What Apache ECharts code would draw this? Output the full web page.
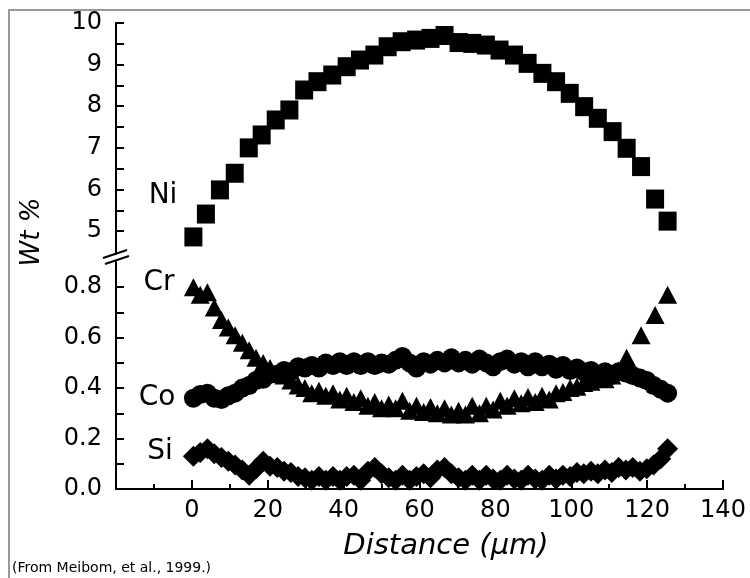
<!DOCTYPE html>
<html>
<head>
<meta charset="utf-8">
<title>Wt % vs Distance</title>
<script src="https://cdn.jsdelivr.net/npm/echarts@6/dist/echarts.min.js"></script>
<style>
  html, body { margin: 0; padding: 0; background: #fff; }
  #chart { width: 750px; height: 578px; }
</style>
</head>
<body>
<div id="chart"></div>
<script>
  // Ni traverse (µm, wt %)
  var niDistance = [0.4, 3.7, 7.4, 11.3, 15.0, 18.4, 22.1, 25.7, 29.6, 33.1, 37.0, 40.8, 44.3, 48.1, 51.6, 55.3, 59.1, 62.9,
    66.6, 70.3, 73.9, 77.5, 81.1, 84.9, 88.5, 92.4, 96.0, 99.6, 103.4, 107.0, 110.9, 114.6, 118.4, 122.1, 125.4]
  var ni = [4.86, 5.41, 5.99, 6.39, 7.0, 7.31, 7.67, 7.91, 8.39, 8.59, 8.75, 8.95, 9.11, 9.23, 9.43, 9.55, 9.59, 9.63,
    9.70, 9.53, 9.51, 9.47, 9.35, 9.23, 9.03, 8.79, 8.59, 8.31, 7.99, 7.71, 7.39, 6.99, 6.55, 5.77, 5.24]

  // minor elements, finer step
  var minorDistance = [0.4, 2.2, 4.1, 5.9, 7.8, 9.6, 11.4, 13.3, 15.1, 16.9, 18.8, 20.6, 22.5, 24.3, 26.1, 28.0, 29.8, 31.6,
    33.5, 35.3, 37.2, 39.0, 40.8, 42.7, 44.5, 46.4, 48.2, 50.0, 51.9, 53.7, 55.5, 57.4, 59.2, 61.1, 62.9, 64.7,
    66.6, 68.4, 70.3, 72.1, 73.9, 75.8, 77.6, 79.4, 81.3, 83.1, 85.0, 86.8, 88.6, 90.5, 92.3, 94.2, 96.0, 97.8,
    99.7, 101.5, 103.3, 105.2, 107.0, 108.9, 110.7, 112.5, 114.4, 116.2, 118.1, 119.9, 121.7, 123.6, 125.4]

  var crDistance = [0.4, 2.2, 4.1, 5.9, 7.8, 9.6, 11.4, 13.3, 15.1, 16.9, 18.8, 20.6, 22.5, 24.3, 26.1, 28.0, 29.8, 31.6,
    33.5, 35.3, 37.2, 39.0, 40.8, 42.7, 44.5, 46.4, 48.2, 50.0, 51.9, 53.7, 55.5, 57.4, 59.2, 61.1, 62.9, 64.7,
    66.6, 68.4, 70.3, 72.1, 73.9, 75.8, 77.6, 79.4, 81.3, 83.1, 85.0, 86.8, 88.6, 90.5, 92.3, 94.2, 96.0, 97.8,
    99.7, 101.5, 103.3, 105.2, 107.0, 108.9, 110.7, 112.5, 114.6, 118.4, 122.1, 125.4]
  var cr = [0.80, 0.77, 0.78, 0.72, 0.67, 0.64, 0.61, 0.58, 0.55, 0.52, 0.50, 0.48, 0.46, 0.45, 0.43, 0.41, 0.40, 0.38,
    0.39, 0.37, 0.38, 0.355, 0.37, 0.345, 0.36, 0.33, 0.345, 0.32, 0.335, 0.32, 0.35, 0.31, 0.33, 0.305, 0.325, 0.30,
    0.32, 0.295, 0.31, 0.295, 0.33, 0.30, 0.33, 0.315, 0.35, 0.33, 0.36, 0.34, 0.365, 0.345, 0.37, 0.355, 0.38, 0.385,
    0.40, 0.405, 0.42, 0.425, 0.44, 0.435, 0.45, 0.47, 0.52, 0.61, 0.69, 0.77]

  var co = [0.36, 0.375, 0.38, 0.36, 0.355, 0.37, 0.38, 0.40, 0.41, 0.43, 0.435, 0.455, 0.455, 0.47, 0.465, 0.485, 0.48, 0.49,
    0.48, 0.50, 0.49, 0.505, 0.49, 0.505, 0.49, 0.505, 0.49, 0.50, 0.495, 0.51, 0.525, 0.50, 0.48, 0.505, 0.495, 0.51,
    0.50, 0.52, 0.50, 0.51, 0.495, 0.515, 0.50, 0.485, 0.505, 0.515, 0.495, 0.505, 0.485, 0.505, 0.485, 0.495, 0.475, 0.49,
    0.47, 0.48, 0.465, 0.47, 0.455, 0.465, 0.45, 0.465, 0.46, 0.45, 0.44, 0.43, 0.41, 0.395, 0.38]

  var si = [0.13, 0.145, 0.16, 0.14, 0.125, 0.11, 0.095, 0.075, 0.055, 0.08, 0.11, 0.09, 0.085, 0.07, 0.065, 0.05, 0.045, 0.035,
    0.05, 0.035, 0.05, 0.035, 0.05, 0.055, 0.035, 0.07, 0.085, 0.06, 0.045, 0.035, 0.055, 0.035, 0.05, 0.06, 0.045, 0.075,
    0.085, 0.06, 0.045, 0.035, 0.055, 0.035, 0.055, 0.04, 0.035, 0.055, 0.04, 0.035, 0.055, 0.04, 0.035, 0.055, 0.04, 0.055,
    0.05, 0.065, 0.06, 0.07, 0.06, 0.075, 0.065, 0.085, 0.075, 0.085, 0.07, 0.08, 0.095, 0.12, 0.16]

  // tick values
  var upperLabels = [5, 6, 7, 8, 9, 10]
  var upperTicks = [5, 5.5, 6, 6.5, 7, 7.5, 8, 8.5, 9, 9.5, 10]
  var lowerLabels = [0, 0.2, 0.4, 0.6, 0.8]
  var lowerTicks = [0, 0.1, 0.2, 0.3, 0.4, 0.5, 0.6, 0.7, 0.8]

  var FONT = 'DejaVu Sans'

  function pairs(xs, ys) {
    return ys.map(function (y, i) { return [xs[i], y] })
  }

  function valueAxis(extra) {
    var base = {
      type: 'value',
      axisLine: { show: true, onZero: false, lineStyle: { color: '#000', width: 2 } },
      axisTick: { show: true, inside: true, length: 8, lineStyle: { color: '#000', width: 2 } },
      axisLabel: { color: '#000', fontFamily: FONT, fontSize: 24 },
      splitLine: { show: false },
    }
    return Object.assign(base, extra)
  }

  var chart = echarts.init(document.getElementById('chart'))

  chart.setOption({
    animation: false,
    backgroundColor: '#fff',
    grid: [
      { left: 116, right: 27, top: 23, bottom: 324, outerBoundsMode: 'none' },
      { left: 116, right: 27, top: 262, bottom: 89, outerBoundsMode: 'none' },
    ],
    xAxis: [
      { type: 'value', gridIndex: 0, min: -20, max: 140, show: false },
      valueAxis({
        gridIndex: 1,
        min: -20,
        max: 140,
        interval: 20,
        axisTick: { show: true, inside: true, length: 9, lineStyle: { color: '#000', width: 2 } },
        minorTick: { show: true, splitNumber: 2, length: 5, lineStyle: { color: '#000', width: 2 } },
        axisLabel: {
          color: '#000', fontFamily: FONT, fontSize: 24, margin: 10,
          formatter: function (v) { return v < 0 ? '' : String(v) },
        },
      }),
    ],
    yAxis: [
      valueAxis({
        gridIndex: 0,
        min: 4.45,
        max: 10,
        axisTick: { show: true, inside: true, length: 8, customValues: upperTicks, lineStyle: { color: '#000', width: 2 } },
        axisLabel: { color: '#000', fontFamily: FONT, fontSize: 24, margin: 14, customValues: upperLabels },
      }),
      valueAxis({
        gridIndex: 1,
        min: 0,
        max: 0.9,
        axisTick: { show: true, inside: true, length: 8, customValues: lowerTicks, lineStyle: { color: '#000', width: 2 } },
        axisLabel: {
          color: '#000', fontFamily: FONT, fontSize: 24, margin: 14, customValues: lowerLabels,
          formatter: function (v) { return v.toFixed(1) },
        },
      }),
    ],
    series: [
      {
        name: 'Ni', type: 'scatter', xAxisIndex: 0, yAxisIndex: 0,
        symbol: 'rect', symbolSize: [18, 19],
        itemStyle: { color: '#000', opacity: 1 },
        data: pairs(niDistance, ni),
      },
      {
        name: 'Cr', type: 'scatter', xAxisIndex: 1, yAxisIndex: 1,
        symbol: 'triangle', symbolSize: [19, 18],
        itemStyle: { color: '#000', opacity: 1 },
        data: pairs(crDistance, cr),
      },
      {
        name: 'Co', type: 'scatter', xAxisIndex: 1, yAxisIndex: 1,
        symbol: 'circle', symbolSize: 19,
        itemStyle: { color: '#000', opacity: 1 },
        data: pairs(minorDistance, co),
      },
      {
        name: 'Si', type: 'scatter', xAxisIndex: 1, yAxisIndex: 1,
        symbol: 'diamond', symbolSize: [21, 21],
        itemStyle: { color: '#000', opacity: 1 },
        data: pairs(minorDistance, si),
      },
    ],
    graphic: [
      // grey frame round the figure
      { type: 'rect', shape: { x: 9, y: 10, width: 800, height: 620 }, style: { fill: 'none', stroke: '#999', lineWidth: 2 }, silent: true },
      // axis break marks
      { type: 'line', shape: { x1: 103, y1: 258, x2: 127, y2: 250 }, style: { stroke: '#000', lineWidth: 2 } },
      { type: 'line', shape: { x1: 105, y1: 264, x2: 129, y2: 256 }, style: { stroke: '#000', lineWidth: 2 } },
      // element names
      { type: 'text', x: 163, y: 196, style: { text: 'Ni', fontFamily: FONT, fontSize: 28, fill: '#000', align: 'center', verticalAlign: 'middle' } },
      { type: 'text', x: 159, y: 283, style: { text: 'Cr', fontFamily: FONT, fontSize: 28, fill: '#000', align: 'center', verticalAlign: 'middle' } },
      { type: 'text', x: 157, y: 398, style: { text: 'Co', fontFamily: FONT, fontSize: 28, fill: '#000', align: 'center', verticalAlign: 'middle' } },
      { type: 'text', x: 160, y: 452, style: { text: 'Si', fontFamily: FONT, fontSize: 28, fill: '#000', align: 'center', verticalAlign: 'middle' } },
      // axis titles
      { type: 'text', x: 32, y: 232, rotation: Math.PI / 2, style: { text: 'Wt %', fontFamily: FONT, fontStyle: 'italic', fontSize: 26, fill: '#000', align: 'center', verticalAlign: 'middle' } },
      { type: 'text', x: 446, y: 546, style: { text: 'Distance (µm)', fontFamily: FONT, fontStyle: 'italic', fontSize: 29, fill: '#000', align: 'center', verticalAlign: 'middle' } },
      // source note
      { type: 'text', x: 12, y: 568, style: { text: '(From Meibom, et al., 1999.)', fontFamily: FONT, fontSize: 14, fill: '#000', align: 'left', verticalAlign: 'middle' } },
    ],
  })
</script>
</body>
</html>
